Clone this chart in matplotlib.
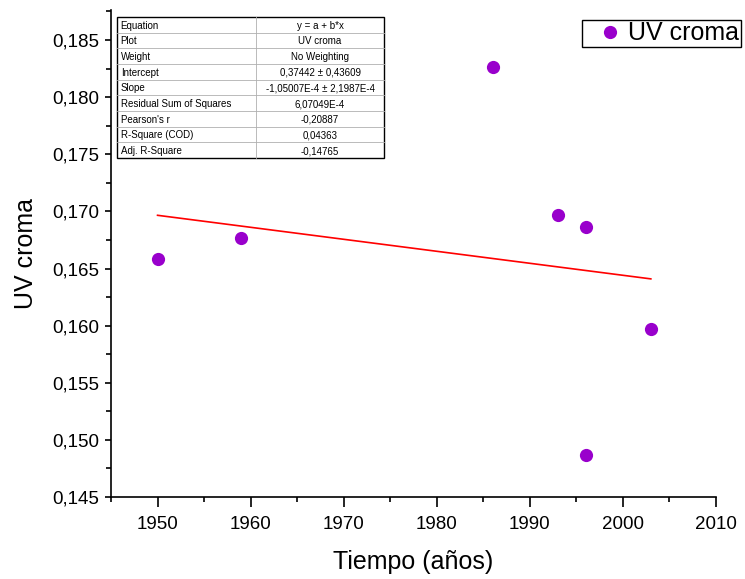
import matplotlib
matplotlib.use("Agg")
import matplotlib.pyplot as plt
from matplotlib.ticker import MultipleLocator, FuncFormatter
from matplotlib.patches import Rectangle
import numpy as np

plt.rcParams['font.family'] = ['Liberation Sans', 'DejaVu Sans']

# Data
years = [1950, 1959, 1986, 1993, 1996, 1996, 2003]
uv_croma = [0.16584, 0.16768, 0.18265, 0.16969, 0.16864, 0.14868, 0.15971]
intercept = 0.37442
slope = -1.05007e-4

table_labels = ["Equation", "Plot", "Weight", "Intercept", "Slope",
                "Residual Sum of Squares", "Pearson's r", "R-Square (COD)",
                "Adj. R-Square"]
table_values = ["y = a + b*x", "UV croma", "No Weighting",
                "0,37442 \u00b1 0,43609", "-1,05007E-4 \u00b1 2,1987E-4",
                "6,07049E-4", "-0,20887", "0,04363", "-0,14765"]

W, H = 745, 579
fig = plt.figure(figsize=(W / 100, H / 100), dpi=100)
ax = fig.add_axes([111 / W, 1 - 497 / H, (716 - 111) / W, (497 - 10) / H])

color_pts = '#9900CC'
ax.plot(years, uv_croma, 'o', color=color_pts, markersize=9.5,
        markeredgewidth=0, label='UV croma', zorder=3)
xf = np.array([min(years), max(years)])
ax.plot(xf, intercept + slope * xf, '-', color='red', linewidth=1.2, zorder=2)

ax.set_xlim(1945, 2010)
ax.set_ylim(0.145, 0.145 + (497 - 10) / 57.125 * 0.005)

ax.xaxis.set_major_locator(MultipleLocator(10))
ax.xaxis.set_minor_locator(MultipleLocator(5))
ax.yaxis.set_major_locator(MultipleLocator(0.005))
ax.yaxis.set_minor_locator(MultipleLocator(0.0025))
ax.yaxis.set_major_formatter(FuncFormatter(lambda v, p: f"{v:.3f}".replace('.', ',')))
ax.xaxis.set_major_formatter(FuncFormatter(lambda v, p: f"{v:.0f}"))

for s in ['top', 'right']:
    ax.spines[s].set_visible(False)
for s in ['left', 'bottom']:
    ax.spines[s].set_linewidth(1.2)

ax.tick_params(axis='both', which='major', direction='out', labelsize=13.5,
               width=1.2, colors='black')
ax.tick_params(axis='x', which='major', length=7, pad=7)
ax.tick_params(axis='x', which='minor', length=3.5, width=1.2)
ax.tick_params(axis='y', which='major', length=4.5, pad=4)
ax.tick_params(axis='y', which='minor', length=3.5, width=1.2)

ax.set_xlabel('Tiempo (años)', fontsize=18, labelpad=12)
ax.set_ylabel('UV croma', fontsize=18, labelpad=10)

# Stats table (manual, axes coordinates)
x0 = (117 - 111) / 605
x1 = (384 - 111) / 605
xs = (256 - 111) / 605
ytop = (497 - 17) / 487
ybot = (497 - 158) / 487
n = len(table_labels)
rh = (ytop - ybot) / n
ax.add_patch(Rectangle((x0, ybot), x1 - x0, ytop - ybot, transform=ax.transAxes,
                       facecolor='white', edgecolor='black', linewidth=1.0, zorder=5))
for i in range(1, n):
    y = ytop - i * rh
    ax.plot([x0, x1], [y, y], transform=ax.transAxes, color='#b0b0b0',
            linewidth=0.6, zorder=6)
ax.plot([xs, xs], [ybot, ytop], transform=ax.transAxes, color='#b0b0b0',
        linewidth=0.6, zorder=6)
for i, (lab, val) in enumerate(zip(table_labels, table_values)):
    yc = ytop - (i + 0.5) * rh - 0.002
    ax.text(x0 + 0.006, yc, lab, transform=ax.transAxes, fontsize=7,
            va='center', ha='left', zorder=7)
    ax.text((xs + x1) / 2, yc, val, transform=ax.transAxes, fontsize=7,
            va='center', ha='center', zorder=7)

leg = ax.legend(loc='upper left', bbox_to_anchor=(582 / W, 1 - 20 / H),
                bbox_transform=fig.transFigure, fontsize=18, frameon=True,
                fancybox=False, edgecolor='black', borderpad=0.05,
                handletextpad=-0.3, handlelength=2.1, borderaxespad=0,
                framealpha=1)
leg.get_frame().set_linewidth(1.0)

fig.savefig('out.png', dpi=100)
